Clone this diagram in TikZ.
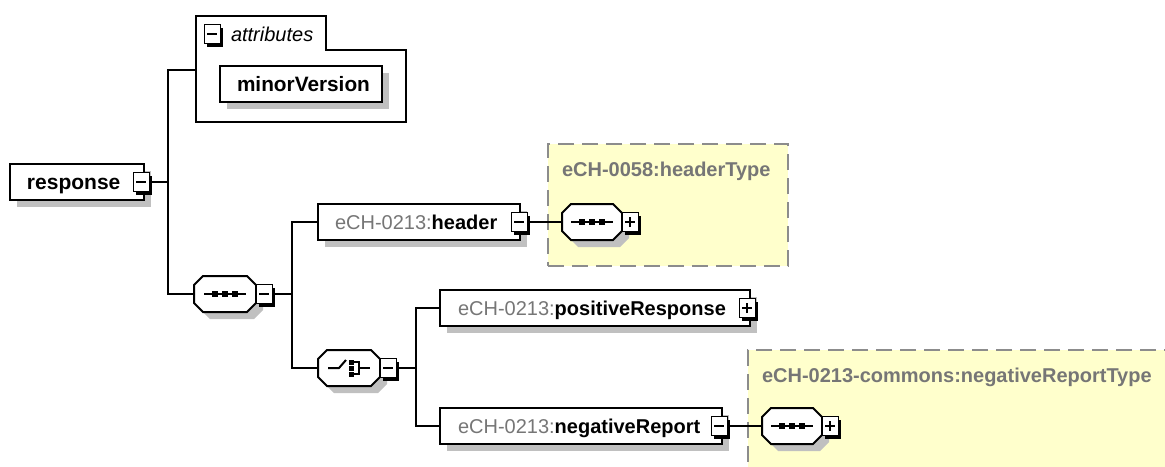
\documentclass[tikz,border=0pt]{standalone}
\usepackage{fontspec}
\setmainfont{Liberation Sans}
\usetikzlibrary{shadows,calc}
\definecolor{shadowc}{RGB}{192,192,192}
\definecolor{prefixc}{RGB}{118,118,118}
\definecolor{typec}{RGB}{255,255,204}
\definecolor{dashc}{RGB}{140,140,140}
\tikzset{
 elem/.style={draw=black, line width=2pt, fill=white, rectangle, inner sep=0pt, outer sep=0pt, minimum height=36pt, anchor=north west,
   drop shadow={shadow xshift=7pt, shadow yshift=-7pt, fill=shadowc, opacity=1}},
 expbox/.style={draw=black, line width=1pt, fill=white, rectangle, inner sep=0pt, outer sep=0pt, minimum width=16pt, minimum height=19pt, anchor=west,
   drop shadow={shadow xshift=3pt, shadow yshift=-3pt, fill=black, opacity=1}},
 octbox/.style={rectangle, inner sep=0pt, outer sep=0pt, minimum height=36pt},
 conn/.style={line width=2pt, black},
 txt/.style={inner sep=0pt, outer sep=0pt, anchor=base west, font=\fontsize{20}{24}\selectfont},
 pfx/.style={txt, text=prefixc},
 nm/.style={txt, anchor=base west, font=\fontsize{20}{24}\selectfont\bfseries},
 typebox/.style={fill=typec, draw=dashc, line width=2pt, dash pattern=on 16pt off 8pt, rectangle, inner sep=0pt, outer sep=0pt, anchor=north west},
 icon/.style={line width=2pt, black},
}
\newcommand{\expminus}[1]{\draw[icon] ([xshift=-5pt]#1.center) -- ([xshift=5pt]#1.center);}
\newcommand{\expplus}[1]{\expminus{#1}\draw[icon] ([yshift=-5pt]#1.center) -- ([yshift=5pt]#1.center);}
\newcommand{\octpath}[1]{([shift={(9,0)}]#1.north west) -- ([shift={(-9,0)}]#1.north east) -- ([shift={(0,9)}]#1.north east) -- ([shift={(0,-9)}]#1.south east) -- ([shift={(-9,0)}]#1.south east) -- ([shift={(9,0)}]#1.south west) -- ([shift={(0,-9)}]#1.south west) -- ([shift={(0,9)}]#1.north west) -- cycle}
\newcommand{\octdraw}[1]{%
  \fill[shadowc, transform canvas={shift={(7pt,-7pt)}}] \octpath{#1};
  \draw[line width=2pt, fill=white] \octpath{#1};}
\newcommand{\seqicon}[1]{%
  \draw[icon] ([xshift=-21pt]#1.center) -- ([xshift=21pt]#1.center);
  \foreach \dx in {-10,0,10} {\fill ([xshift=\dx pt]#1.center) +(-3,-3) rectangle +(3,3);}}
\newcommand{\choiceicon}[1]{%
  \draw[icon] (#1.center) ++(-21,0) -- ++(11,0) -- ++(7,-8);
  \foreach \dy in {-6,0,6} {\fill (#1.center) ++(2,\dy) +(-2.5,-2.5) rectangle +(2.5,2.5);}
  \draw[icon] (#1.center) ++(5,-6) -- ++(5,0) -- ++(0,12) -- ++(-5,0);
  \draw[icon] (#1.center) ++(10,0) -- ++(11,0);}
\begin{document}
\begin{tikzpicture}[x=1pt,y=-1pt]
\useasboundingbox (0,0) rectangle (1165,466);
\clip (0,0) rectangle (1165,466);
% type boxes
\node[typebox, minimum width=240pt, minimum height=122pt] (httype) at (548,144) {};
\node[typebox, minimum width=460pt, minimum height=160pt] (nttype) at (748,350) {};
\node[pfx, font=\fontsize{20}{24}\selectfont\bfseries] (httitle) at (562,176) {eCH-0058:headerType};
\node[pfx, font=\fontsize{20}{24}\selectfont\bfseries] (nttitle) at (762,382) {eCH-0213-commons:negativeReportType};
% attributes container
\node[rectangle, inner sep=0pt, outer sep=0pt, minimum width=210pt, minimum height=106pt, anchor=north west] (attrs) at (196,16) {};
\draw[line width=2pt, fill=white] (attrs.north west) -- ++(130,0) -- ++(0,34) -| (attrs.south east) -- (attrs.south west) -- cycle;
\node[expbox] (attrexp) at (204,34) {};
\expminus{attrexp}
\node[txt, font=\fontsize{20}{24}\selectfont\itshape] (attrT) at (231,41) {attributes};
\node[elem, minimum width=162pt] (minor) at (220,66) {};
\node[nm, font=\fontsize{20.8}{24}\selectfont\bfseries] (minorT) at (237,91) {minorVersion};
% response
\node[elem, minimum width=134pt] (response) at (10,164) {};
\node[nm, font=\fontsize{21}{24}\selectfont\bfseries] (responseT) at (27,189) {response};
\node[expbox] (respexp) at (133,182) {};
\expminus{respexp}
% sequence 1
\node[octbox, minimum width=62pt] (seq1) at (225,294) {};
\octdraw{seq1}
\seqicon{seq1}
\node[expbox] (seqexp) at (256,294) {};
\expminus{seqexp}
% header
\node[elem, minimum width=202pt] (header) at (318,204) {};
\node[pfx] (headerP) at (335,229) {eCH-0213:};
\node[nm] (headerT) at (headerP.base east) {header};
\node[expbox] (headerexp) at (511,222) {};
\expminus{headerexp}
\node[octbox, minimum width=60pt] (htseq) at (592,222) {};
\octdraw{htseq}
\seqicon{htseq}
\node[expbox] (htexp) at (622,222) {};
\expplus{htexp}
% choice
\node[octbox, minimum width=62pt] (choice) at (349,368) {};
\octdraw{choice}
\choiceicon{choice}
\node[expbox] (choiceexp) at (380,368) {};
\expminus{choiceexp}
% positiveResponse
\node[elem, minimum width=310pt] (posr) at (440,290) {};
\node[pfx] (posrP) at (458,315) {eCH-0213:};
\node[nm] (posrT) at (posrP.base east) {positiveResponse};
\node[expbox] (posrexp) at (739,308) {};
\expplus{posrexp}
% negativeReport
\node[elem, minimum width=282pt] (negr) at (440,408) {};
\node[pfx] (negrP) at (458,433) {eCH-0213:};
\node[nm] (negrT) at (negrP.base east) {negativeReport};
\node[expbox] (negrexp) at (711,426) {};
\expminus{negrexp}
\node[octbox, minimum width=60pt] (ntseq) at (792,426) {};
\octdraw{ntseq}
\seqicon{ntseq}
\node[expbox] (ntexp) at (822,426) {};
\expplus{ntexp}
% connectors
\coordinate (tr1) at (168,182);
\coordinate (tr2) at (292,294);
\coordinate (tr3) at (416,368);
\draw[conn] (respexp.east) -- (tr1);
\draw[conn] (attrs.west |- 0,70) -| (tr1 |- seq1.west) -- (seq1.west);
\draw[conn] (seqexp.east) -- (tr2);
\draw[conn] (header.west) -| (tr2 |- choice.west) -- (choice.west);
\draw[conn] (choiceexp.east) -- (tr3);
\draw[conn] (posr.west) -| (tr3 |- negr.west) -- (negr.west);
\draw[conn] (headerexp.east) -- (htseq.west);
\draw[conn] (negrexp.east) -- (ntseq.west);
\end{tikzpicture}
\end{document}
